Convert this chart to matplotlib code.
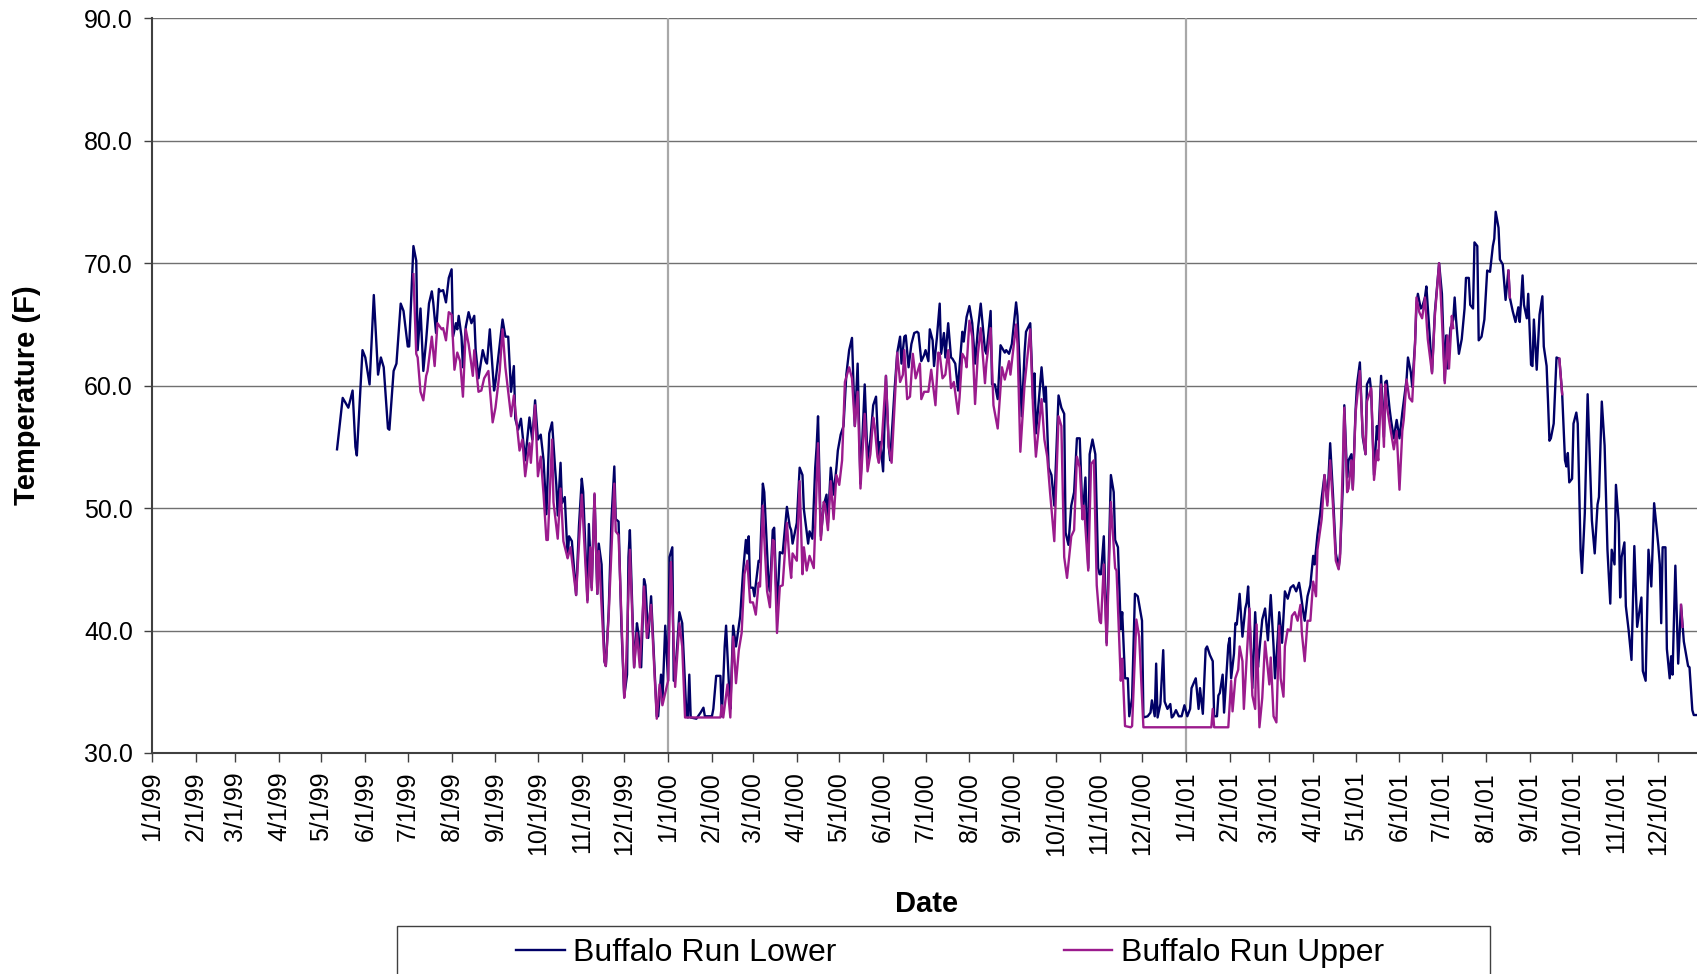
import numpy as np
import pandas as pd
import matplotlib
matplotlib.use('Agg')
import matplotlib.pyplot as plt
import matplotlib.dates as mdates
from matplotlib.ticker import FuncFormatter
from matplotlib.patches import Rectangle

plt.rcParams['font.family'] = ['Liberation Sans', 'DejaVu Sans']

# daily water temperature (F)
lower_1999 = [
    ('5/12/99', 54.8), ('5/16/99', 59.0), ('5/20/99', 58.2), ('5/23/99', 59.6), ('5/25/99', 55.0),
    ('5/26/99', 54.3), ('5/30/99', 62.9), ('6/1/99', 62.3), ('6/4/99', 60.1), ('6/7/99', 67.4),
    ('6/10/99', 60.9), ('6/12/99', 62.3), ('6/14/99', 61.5), ('6/17/99', 56.5), ('6/18/99', 56.4),
    ('6/21/99', 61.2), ('6/23/99', 61.8), ('6/26/99', 66.7), ('6/28/99', 66.1), ('7/1/99', 63.2),
    ('7/2/99', 63.2), ('7/5/99', 71.4), ('7/7/99', 70.2), ('7/8/99', 62.9), ('7/10/99', 66.3),
    ('7/12/99', 61.2), ('7/14/99', 63.7), ('7/16/99', 66.7), ('7/18/99', 67.7), ('7/19/99', 66.8),
    ('7/21/99', 64.3), ('7/23/99', 67.9), ('7/24/99', 67.7), ('7/26/99', 67.8), ('7/28/99', 66.8),
    ('7/30/99', 68.8), ('8/1/99', 69.5), ('8/2/99', 64.0), ('8/4/99', 65.1), ('8/5/99', 64.6),
    ('8/6/99', 65.7), ('8/8/99', 64.0), ('8/9/99', 61.5), ('8/11/99', 64.8), ('8/13/99', 66.0),
    ('8/15/99', 65.1), ('8/17/99', 65.7), ('8/18/99', 62.9), ('8/20/99', 60.6), ('8/23/99', 62.9),
    ('8/25/99', 62.0), ('8/26/99', 61.8), ('8/28/99', 64.6), ('8/31/99', 59.6), ('9/1/99', 60.3),
    ('9/4/99', 63.4), ('9/6/99', 65.4), ('9/8/99', 64.0), ('9/10/99', 64.0), ('9/12/99', 59.5),
    ('9/14/99', 61.6), ('9/15/99', 57.3), ('9/17/99', 56.4), ('9/19/99', 57.3), ('9/22/99', 53.9),
    ('9/25/99', 57.4), ('9/27/99', 55.6), ('9/29/99', 58.8), ('10/1/99', 55.6), ('10/3/99', 56.0),
    ('10/5/99', 53.9), ('10/7/99', 49.5), ('10/9/99', 56.1), ('10/11/99', 57.0), ('10/13/99', 53.5),
    ('10/14/99', 51.9), ('10/15/99', 49.4), ('10/17/99', 53.7), ('10/18/99', 50.4), ('10/20/99', 50.9),
    ('10/22/99', 46.0), ('10/23/99', 47.7), ('10/25/99', 47.3), ('10/28/99', 42.9), ('10/30/99', 48.5),
    ('11/1/99', 52.4), ('11/2/99', 51.3), ('11/5/99', 42.5), ('11/6/99', 48.7), ('11/8/99', 43.5),
    ('11/10/99', 51.1), ('11/12/99', 43.0), ('11/13/99', 47.1), ('11/15/99', 45.4), ('11/17/99', 37.5),
    ('11/18/99', 37.1), ('11/20/99', 41.5), ('11/22/99', 49.1), ('11/24/99', 53.4), ('11/25/99', 49.1),
    ('11/27/99', 48.9), ('11/29/99', 40.4), ('12/1/99', 34.6), ('12/3/99', 36.4), ('12/4/99', 46.0),
    ('12/5/99', 48.2), ('12/7/99', 40.6), ('12/8/99', 37.0), ('12/10/99', 40.6), ('12/11/99', 39.8),
    ('12/13/99', 37.0), ('12/15/99', 44.2), ('12/16/99', 43.7), ('12/18/99', 39.4), ('12/20/99', 42.8),
    ('12/21/99', 40.4), ('12/24/99', 33.0), ('12/25/99', 33.0), ('12/27/99', 36.4), ('12/28/99', 34.2),
    ('12/30/99', 40.4),
]
lower_2000 = [
    ('1/1/00', 35.9), ('1/2/00', 46.0), ('1/4/00', 46.8), ('1/5/00', 35.9), ('1/7/00', 38.0),
    ('1/9/00', 41.5), ('1/11/00', 40.6), ('1/14/00', 33.0), ('1/15/00', 32.9), ('1/16/00', 36.4),
    ('1/17/00', 32.9), ('1/21/00', 32.8), ('1/24/00', 33.3), ('1/26/00', 33.7), ('1/27/00', 33.0),
    ('2/1/00', 33.0), ('2/2/00', 33.6), ('2/4/00', 36.3), ('2/7/00', 36.3), ('2/8/00', 33.0),
    ('2/10/00', 38.7), ('2/11/00', 40.4), ('2/13/00', 35.6), ('2/14/00', 33.6), ('2/16/00', 40.4),
    ('2/18/00', 38.7), ('2/21/00', 41.2), ('2/23/00', 44.8), ('2/25/00', 47.4), ('2/26/00', 46.3),
    ('2/27/00', 47.7), ('2/28/00', 43.5), ('3/1/00', 43.5), ('3/2/00', 42.8), ('3/5/00', 45.7),
    ('3/6/00', 45.6), ('3/8/00', 52.0), ('3/9/00', 51.3), ('3/12/00', 44.0), ('3/13/00', 43.2),
    ('3/15/00', 48.2), ('3/16/00', 48.4), ('3/18/00', 41.5), ('3/20/00', 46.4), ('3/22/00', 46.3),
    ('3/25/00', 50.1), ('3/27/00', 48.5), ('3/28/00', 48.2), ('3/29/00', 47.1), ('4/1/00', 48.8),
    ('4/3/00', 53.3), ('4/5/00', 52.7), ('4/6/00', 49.9), ('4/9/00', 47.1), ('4/10/00', 48.1),
    ('4/12/00', 47.5), ('4/14/00', 53.3), ('4/15/00', 55.0), ('4/16/00', 57.5), ('4/18/00', 47.7),
    ('4/20/00', 50.2), ('4/22/00', 51.1), ('4/23/00', 48.8), ('4/25/00', 53.3), ('4/27/00', 51.1),
    ('4/29/00', 53.3), ('4/30/00', 54.7), ('5/2/00', 56.0), ('5/4/00', 56.7), ('5/6/00', 60.9),
    ('5/8/00', 62.9), ('5/10/00', 63.9), ('5/12/00', 56.7), ('5/14/00', 61.8), ('5/16/00', 52.0),
    ('5/19/00', 60.1), ('5/21/00', 53.9), ('5/23/00', 55.6), ('5/25/00', 58.4), ('5/27/00', 59.1),
    ('5/29/00', 53.9), ('5/30/00', 55.4), ('6/1/00', 53.0), ('6/3/00', 60.8), ('6/5/00', 55.0),
    ('6/6/00', 53.9), ('6/9/00', 59.5), ('6/11/00', 62.7), ('6/13/00', 64.0), ('6/14/00', 61.8),
    ('6/16/00', 64.0), ('6/17/00', 64.1), ('6/19/00', 61.5), ('6/21/00', 63.4), ('6/23/00', 64.3),
    ('6/25/00', 64.4), ('6/26/00', 64.3), ('6/28/00', 62.0), ('6/30/00', 62.5), ('7/1/00', 62.9),
    ('7/3/00', 62.0), ('7/4/00', 64.6), ('7/6/00', 63.7), ('7/7/00', 61.6), ('7/9/00', 63.9),
    ('7/11/00', 66.7), ('7/12/00', 62.6), ('7/14/00', 64.3), ('7/15/00', 62.3), ('7/17/00', 65.1),
    ('7/19/00', 62.3), ('7/20/00', 62.2), ('7/22/00', 61.8), ('7/24/00', 59.6), ('7/25/00', 61.5),
    ('7/27/00', 64.4), ('7/28/00', 63.6), ('7/30/00', 65.6), ('8/1/00', 66.5), ('8/3/00', 65.1),
    ('8/5/00', 61.8), ('8/7/00', 64.6), ('8/9/00', 66.7), ('8/12/00', 62.9), ('8/13/00', 62.6),
    ('8/16/00', 66.1), ('8/17/00', 60.1), ('8/19/00', 60.1), ('8/21/00', 58.9), ('8/23/00', 63.3),
    ('8/26/00', 62.7), ('8/27/00', 62.9), ('8/29/00', 62.6), ('8/31/00', 63.4), ('9/3/00', 66.8),
    ('9/4/00', 65.7), ('9/7/00', 57.5), ('9/9/00', 62.7), ('9/10/00', 64.4), ('9/13/00', 65.1),
    ('9/15/00', 58.9), ('9/16/00', 61.0), ('9/17/00', 56.1), ('9/19/00', 58.7), ('9/21/00', 61.5),
    ('9/23/00', 58.7), ('9/24/00', 59.9), ('9/26/00', 53.3), ('9/28/00', 52.7), ('9/30/00', 50.2),
    ('10/3/00', 59.2), ('10/5/00', 58.2), ('10/7/00', 57.7), ('10/8/00', 48.0), ('10/10/00', 47.0),
    ('10/12/00', 50.2), ('10/14/00', 51.3), ('10/16/00', 55.7), ('10/18/00', 55.7), ('10/20/00', 49.1),
    ('10/22/00', 52.5), ('10/24/00', 45.1), ('10/25/00', 54.4), ('10/27/00', 55.6), ('10/29/00', 54.4),
    ('10/31/00', 45.1), ('11/1/00', 44.6), ('11/2/00', 44.6), ('11/4/00', 47.7), ('11/6/00', 39.0),
    ('11/9/00', 52.7), ('11/11/00', 51.3), ('11/12/00', 47.4), ('11/14/00', 46.8), ('11/16/00', 40.1),
    ('11/17/00', 41.5), ('11/19/00', 36.1), ('11/21/00', 36.1), ('11/22/00', 33.0), ('11/24/00', 34.5),
    ('11/26/00', 43.0), ('11/28/00', 42.8), ('12/1/00', 40.8), ('12/2/00', 32.9), ('12/5/00', 33.0),
    ('12/7/00', 33.3), ('12/8/00', 34.3), ('12/10/00', 33.0), ('12/11/00', 37.3), ('12/12/00', 32.9),
    ('12/14/00', 34.0), ('12/16/00', 38.4), ('12/17/00', 34.2), ('12/19/00', 33.6), ('12/21/00', 34.0),
    ('12/22/00', 32.9), ('12/23/00', 33.0), ('12/25/00', 33.5), ('12/27/00', 33.0), ('12/29/00', 33.0),
    ('12/31/00', 33.9),
]
lower_2001 = [
    ('1/2/01', 33.0), ('1/4/01', 33.6), ('1/5/01', 35.3), ('1/8/01', 36.1), ('1/10/01', 33.6),
    ('1/11/01', 35.3), ('1/13/01', 33.2), ('1/15/01', 38.5), ('1/16/01', 38.7), ('1/18/01', 38.0),
    ('1/20/01', 37.5), ('1/21/01', 33.0), ('1/23/01', 33.0), ('1/24/01', 34.7), ('1/25/01', 34.9),
    ('1/27/01', 36.4), ('1/28/01', 33.3), ('1/31/01', 38.8), ('2/1/01', 39.4), ('2/2/01', 36.1),
    ('2/4/01', 38.1), ('2/5/01', 40.6), ('2/6/01', 40.5), ('2/8/01', 43.0), ('2/10/01', 39.5),
    ('2/12/01', 41.8), ('2/13/01', 42.3), ('2/14/01', 43.6), ('2/16/01', 38.4), ('2/17/01', 35.3),
    ('2/19/01', 41.5), ('2/21/01', 37.0), ('2/22/01', 38.4), ('2/24/01', 40.9), ('2/26/01', 41.8),
    ('2/28/01', 39.2), ('3/2/01', 42.9), ('3/4/01', 38.7), ('3/5/01', 36.1), ('3/7/01', 39.5),
    ('3/8/01', 41.5), ('3/10/01', 39.0), ('3/12/01', 43.2), ('3/14/01', 42.6), ('3/16/01', 43.5),
    ('3/18/01', 43.7), ('3/20/01', 43.2), ('3/22/01', 43.9), ('3/23/01', 43.2), ('3/25/01', 41.5),
    ('3/26/01', 40.8), ('3/28/01', 42.8), ('3/30/01', 43.7), ('4/1/01', 46.1), ('4/2/01', 45.4),
    ('4/4/01', 47.8), ('4/6/01', 49.6), ('4/7/01', 50.8), ('4/9/01', 52.7), ('4/11/01', 50.5),
    ('4/13/01', 55.3), ('4/15/01', 51.1), ('4/17/01', 46.3), ('4/19/01', 45.1), ('4/20/01', 46.3),
    ('4/22/01', 51.9), ('4/23/01', 58.4), ('4/25/01', 52.5), ('4/26/01', 53.9), ('4/28/01', 54.4),
    ('4/29/01', 51.6), ('5/1/01', 58.1), ('5/2/01', 60.1), ('5/4/01', 61.9), ('5/6/01', 55.8),
    ('5/8/01', 54.4), ('5/9/01', 60.1), ('5/11/01', 60.6), ('5/12/01', 59.5), ('5/14/01', 52.7),
    ('5/16/01', 56.7), ('5/17/01', 55.6), ('5/19/01', 60.8), ('5/21/01', 55.8), ('5/22/01', 60.3),
    ('5/23/01', 60.4), ('5/25/01', 58.1), ('5/26/01', 57.2), ('5/28/01', 55.7), ('5/30/01', 57.2),
    ('6/1/01', 55.7), ('6/3/01', 57.8), ('6/4/01', 58.7), ('6/6/01', 60.5), ('6/7/01', 62.3),
    ('6/9/01', 61.1), ('6/10/01', 59.9), ('6/12/01', 63.5), ('6/13/01', 66.6), ('6/14/01', 67.5),
    ('6/16/01', 66.3), ('6/17/01', 66.4), ('6/19/01', 67.2), ('6/20/01', 68.1), ('6/22/01', 64.7),
    ('6/24/01', 61.1), ('6/26/01', 66.0), ('6/28/01', 68.7), ('6/29/01', 70.0), ('7/1/01', 67.5),
    ('7/3/01', 60.4), ('7/4/01', 64.1), ('7/5/01', 61.4), ('7/7/01', 64.7), ('7/9/01', 65.4),
    ('7/10/01', 67.2), ('7/11/01', 65.4), ('7/13/01', 62.6), ('7/15/01', 63.8), ('7/17/01', 66.3),
    ('7/18/01', 68.8), ('7/20/01', 68.8), ('7/21/01', 66.6), ('7/23/01', 66.3), ('7/24/01', 71.7),
    ('7/26/01', 71.4), ('7/27/01', 63.7), ('7/29/01', 64.0), ('7/31/01', 65.4), ('8/2/01', 69.4),
    ('8/4/01', 69.3), ('8/6/01', 71.4), ('8/7/01', 72.0), ('8/8/01', 74.2), ('8/10/01', 72.9),
    ('8/11/01', 70.3), ('8/13/01', 69.9), ('8/15/01', 67.0), ('8/17/01', 69.4), ('8/18/01', 67.2),
    ('8/20/01', 66.1), ('8/22/01', 65.2), ('8/24/01', 66.4), ('8/25/01', 65.2), ('8/27/01', 69.0),
    ('8/28/01', 66.6), ('8/30/01', 65.5), ('8/31/01', 67.5), ('9/2/01', 61.7), ('9/3/01', 61.6),
    ('9/4/01', 65.4), ('9/6/01', 61.3), ('9/8/01', 65.8), ('9/10/01', 67.3), ('9/11/01', 63.2),
    ('9/13/01', 61.6), ('9/14/01', 58.7), ('9/15/01', 55.5), ('9/16/01', 55.7), ('9/18/01', 56.9),
    ('9/20/01', 62.3), ('9/22/01', 62.2), ('9/24/01', 59.3), ('9/26/01', 53.9), ('9/27/01', 53.4),
    ('9/28/01', 54.5), ('9/29/01', 52.1), ('10/1/01', 52.4), ('10/2/01', 56.9), ('10/4/01', 57.8),
    ('10/5/01', 56.9), ('10/7/01', 46.6), ('10/8/01', 44.7), ('10/10/01', 49.6), ('10/12/01', 59.3),
    ('10/15/01', 49.0), ('10/17/01', 46.3), ('10/19/01', 50.3), ('10/20/01', 50.9), ('10/22/01', 58.7),
    ('10/24/01', 55.1), ('10/26/01', 46.6), ('10/28/01', 42.2), ('10/29/01', 46.6), ('10/31/01', 45.4),
    ('11/1/01', 51.9), ('11/3/01', 48.8), ('11/4/01', 42.7), ('11/5/01', 46.0), ('11/7/01', 47.2),
    ('11/8/01', 42.0), ('11/10/01', 40.0), ('11/12/01', 37.6), ('11/14/01', 46.9), ('11/16/01', 40.3),
    ('11/19/01', 42.7), ('11/20/01', 36.7), ('11/22/01', 35.9), ('11/24/01', 46.6), ('11/26/01', 43.6),
    ('11/28/01', 50.4), ('12/1/01', 46.9), ('12/2/01', 45.4), ('12/3/01', 40.6), ('12/4/01', 46.8),
    ('12/6/01', 46.8), ('12/7/01', 38.5), ('12/9/01', 36.1), ('12/10/01', 37.9), ('12/11/01', 36.4),
    ('12/13/01', 45.3), ('12/15/01', 37.3), ('12/17/01', 42.1), ('12/19/01', 39.1), ('12/22/01', 37.1),
    ('12/23/01', 37.0), ('12/25/01', 33.5), ('12/26/01', 33.1), ('12/28/01', 33.1),
]

upper_1999 = [
    ('7/5/99', 69.1), ('7/7/99', 62.6), ('7/8/99', 62.3), ('7/10/99', 59.5), ('7/12/99', 58.8),
    ('7/14/99', 60.8), ('7/15/99', 61.2), ('7/18/99', 64.0), ('7/20/99', 61.6), ('7/22/99', 65.1),
    ('7/25/99', 64.6), ('7/26/99', 64.7), ('7/28/99', 63.7), ('7/30/99', 66.0), ('8/1/99', 65.8),
    ('8/3/99', 61.3), ('8/5/99', 62.7), ('8/7/99', 62.0), ('8/9/99', 59.1), ('8/11/99', 64.6),
    ('8/13/99', 63.4), ('8/16/99', 60.8), ('8/17/99', 62.9), ('8/20/99', 59.5), ('8/22/99', 59.6),
    ('8/24/99', 60.6), ('8/27/99', 61.2), ('8/30/99', 57.0), ('9/1/99', 58.2), ('9/4/99', 61.2),
    ('9/6/99', 64.6), ('9/8/99', 61.5), ('9/12/99', 57.5), ('9/14/99', 59.2), ('9/18/99', 54.7),
    ('9/20/99', 55.6), ('9/22/99', 52.6), ('9/25/99', 55.3), ('9/26/99', 53.7), ('9/29/99', 58.4),
    ('10/1/99', 52.6), ('10/3/99', 54.2), ('10/5/99', 51.1), ('10/7/99', 47.4), ('10/8/99', 47.4),
    ('10/11/99', 55.6), ('10/12/99', 50.5), ('10/15/99', 47.5), ('10/17/99', 51.6), ('10/19/99', 47.3),
    ('10/22/99', 45.9), ('10/24/99', 46.8), ('10/28/99', 42.9), ('11/1/99', 51.1), ('11/5/99', 42.3),
    ('11/7/99', 46.8), ('11/8/99', 43.3), ('11/10/99', 51.2), ('11/12/99', 43.0), ('11/13/99', 46.5),
    ('11/17/99', 37.5), ('11/18/99', 37.1), ('11/20/99', 41.2), ('11/24/99', 52.0), ('11/25/99', 48.1),
    ('11/27/99', 47.8), ('12/1/99', 34.5), ('12/2/99', 36.1), ('12/5/99', 46.6), ('12/8/99', 37.0),
    ('12/10/99', 39.8), ('12/12/99', 37.0), ('12/15/99', 43.6), ('12/17/99', 39.4), ('12/20/99', 42.1),
    ('12/24/99', 32.8), ('12/26/99', 35.6), ('12/28/99', 33.9),
]
upper_2000 = [
    ('1/1/00', 35.9), ('1/3/00', 45.6), ('1/6/00', 35.4), ('1/9/00', 40.6), ('1/11/00', 38.7),
    ('1/13/00', 32.9), ('2/7/00', 32.9), ('2/8/00', 33.9), ('2/9/00', 32.9), ('2/12/00', 35.6),
    ('2/14/00', 32.9), ('2/16/00', 39.5), ('2/18/00', 35.7), ('2/20/00', 38.4), ('2/22/00', 39.8),
    ('2/24/00', 44.6), ('2/26/00', 45.7), ('2/28/00', 42.3), ('3/1/00', 42.3), ('3/3/00', 41.3),
    ('3/5/00', 43.9), ('3/6/00', 43.6), ('3/8/00', 50.2), ('3/9/00', 47.5), ('3/11/00', 43.2),
    ('3/13/00', 41.9), ('3/15/00', 47.4), ('3/16/00', 47.3), ('3/18/00', 39.8), ('3/20/00', 43.6),
    ('3/22/00', 43.7), ('3/25/00', 48.8), ('3/27/00', 45.4), ('3/28/00', 44.3), ('3/29/00', 46.3),
    ('4/1/00', 45.7), ('4/3/00', 52.2), ('4/5/00', 44.6), ('4/6/00', 46.8), ('4/8/00', 44.9),
    ('4/10/00', 46.1), ('4/13/00', 45.1), ('4/16/00', 55.3), ('4/18/00', 47.4), ('4/20/00', 50.5),
    ('4/21/00', 50.2), ('4/23/00', 48.2), ('4/25/00', 52.2), ('4/27/00', 49.1), ('4/29/00', 52.7),
    ('5/1/00', 51.9), ('5/3/00', 53.9), ('5/5/00', 60.3), ('5/8/00', 61.5), ('5/10/00', 60.6),
    ('5/12/00', 56.7), ('5/14/00', 59.5), ('5/16/00', 51.6), ('5/19/00', 57.7), ('5/21/00', 53.0),
    ('5/23/00', 54.4), ('5/25/00', 57.4), ('5/26/00', 56.7), ('5/28/00', 54.2), ('5/29/00', 53.7),
    ('5/31/00', 55.3), ('6/3/00', 60.8), ('6/5/00', 55.0), ('6/7/00', 53.7), ('6/11/00', 62.7),
    ('6/13/00', 60.3), ('6/15/00', 60.9), ('6/16/00', 62.9), ('6/18/00', 58.9), ('6/20/00', 59.1),
    ('6/22/00', 62.6), ('6/24/00', 60.6), ('6/27/00', 61.8), ('6/28/00', 58.9), ('6/30/00', 59.5),
    ('7/2/00', 59.5), ('7/3/00', 59.5), ('7/5/00', 61.3), ('7/8/00', 58.4), ('7/10/00', 62.7),
    ('7/11/00', 62.6), ('7/13/00', 60.6), ('7/15/00', 60.9), ('7/17/00', 62.9), ('7/19/00', 59.8),
    ('7/21/00', 60.3), ('7/24/00', 57.7), ('7/25/00', 59.0), ('7/27/00', 62.6), ('7/29/00', 62.2),
    ('7/30/00', 61.5), ('8/1/00', 65.3), ('8/3/00', 64.0), ('8/5/00', 58.5), ('8/7/00', 62.6),
    ('8/9/00', 64.7), ('8/12/00', 60.2), ('8/13/00', 61.8), ('8/16/00', 64.7), ('8/18/00', 58.4),
    ('8/21/00', 56.5), ('8/24/00', 61.5), ('8/26/00', 60.5), ('8/29/00', 62.0), ('8/30/00', 60.9),
    ('9/3/00', 65.0), ('9/4/00', 63.4), ('9/6/00', 54.6), ('9/9/00', 60.1), ('9/13/00', 64.6),
    ('9/15/00', 58.1), ('9/17/00', 54.2), ('9/21/00', 58.9), ('9/23/00', 55.6), ('9/25/00', 54.2),
    ('9/27/00', 51.3), ('9/30/00', 47.3), ('10/3/00', 57.5), ('10/5/00', 56.7), ('10/7/00', 46.0),
    ('10/9/00', 44.3), ('10/12/00', 47.7), ('10/14/00', 48.2), ('10/16/00', 54.2), ('10/18/00', 53.3),
    ('10/20/00', 49.1), ('10/21/00', 50.2), ('10/24/00', 44.9), ('10/26/00', 53.6), ('10/28/00', 53.9),
    ('10/30/00', 43.7), ('11/1/00', 40.8), ('11/2/00', 40.6), ('11/4/00', 45.4), ('11/6/00', 38.8),
    ('11/9/00', 50.5), ('11/12/00', 45.1), ('11/13/00', 44.9), ('11/16/00', 35.9), ('11/17/00', 37.7),
    ('11/19/00', 32.2), ('11/23/00', 32.1), ('11/24/00', 32.2), ('11/27/00', 40.9), ('11/29/00', 39.5),
    ('12/2/00', 32.1),
]
# upper logger stops in July 2001 apart from a few short stretches
upper_2001 = [
    ('1/19/01', 32.1), ('1/20/01', 33.6), ('1/21/01', 32.1), ('1/31/01', 32.1), ('2/2/01', 35.9),
    ('2/3/01', 33.4), ('2/5/01', 36.1), ('2/7/01', 36.8), ('2/8/01', 38.7), ('2/10/01', 37.5),
    ('2/11/01', 33.6), ('2/13/01', 37.8), ('2/15/01', 41.8), ('2/17/01', 34.7), ('2/19/01', 33.6),
    ('2/20/01', 40.5), ('2/22/01', 32.1), ('2/24/01', 34.5), ('2/26/01', 39.1), ('3/1/01', 35.6),
    ('3/2/01', 37.8), ('3/4/01', 33.0), ('3/6/01', 32.5), ('3/8/01', 40.4), ('3/9/01', 36.1),
    ('3/11/01', 34.6), ('3/12/01', 38.7), ('3/14/01', 40.1), ('3/16/01', 40.0), ('3/17/01', 41.2),
    ('3/19/01', 41.5), ('3/21/01', 40.8), ('3/23/01', 42.1), ('3/24/01', 39.8), ('3/26/01', 37.5),
    ('3/28/01', 40.8), ('3/30/01', 40.8), ('4/1/01', 44.0), ('4/3/01', 42.8), ('4/4/01', 46.6),
    ('4/7/01', 49.1), ('4/9/01', 52.7), ('4/11/01', 50.2), ('4/13/01', 53.9), ('4/15/01', 50.2),
    ('4/17/01', 45.7), ('4/19/01', 45.0), ('4/20/01', 46.0), ('4/22/01', 53.9), ('4/23/01', 58.2),
    ('4/25/01', 51.3), ('4/26/01', 51.6), ('4/28/01', 53.9), ('4/29/01', 51.5), ('5/1/01', 57.8),
    ('5/4/01', 61.2), ('5/6/01', 56.1), ('5/8/01', 54.4), ('5/9/01', 58.7), ('5/12/01', 59.8),
    ('5/14/01', 52.3), ('5/16/01', 54.7), ('5/17/01', 53.9), ('5/19/01', 60.1), ('5/21/01', 55.0),
    ('5/22/01', 60.1), ('5/23/01', 58.4), ('5/25/01', 56.9), ('5/28/01', 54.8), ('5/30/01', 56.3),
    ('6/1/01', 51.5), ('6/3/01', 56.3), ('6/4/01', 57.2), ('6/6/01', 60.5), ('6/8/01', 59.0),
    ('6/10/01', 58.7), ('6/12/01', 63.4), ('6/13/01', 67.2), ('6/15/01', 66.0), ('6/17/01', 65.5),
    ('6/19/01', 67.2), ('6/21/01', 63.8), ('6/24/01', 61.0), ('6/26/01', 65.7), ('6/29/01', 70.0),
    ('7/1/01', 65.4), ('7/3/01', 60.2), ('7/5/01', 64.1), ('7/6/01', 61.4), ('7/8/01', 65.7),
    ('7/9/01', 64.7), ('7/10/01', None),
    ('8/17/01', 69.4), ('8/18/01', 67.2), ('8/19/01', None),
    ('9/22/01', 62.2), ('9/24/01', 59.3), ('9/25/01', None),
    ('12/17/01', 42.1), ('12/18/01', 40.3),
]

year_lines = ['1/1/00', '1/1/01']
series_names = ['Buffalo Run Lower', 'Buffalo Run Upper']
series_colors = ['#000066', '#9b1b8d']


def to_series(*chunks):
    pairs = [p for c in chunks for p in c]
    dates = pd.to_datetime([d for d, _ in pairs], format='%m/%d/%y')
    vals = np.array([np.nan if v is None else v for _, v in pairs], dtype=float)
    return dates, vals


lower_d, lower_t = to_series(lower_1999, lower_2000, lower_2001)
upper_d, upper_t = to_series(upper_1999, upper_2000, upper_2001)

W, H = 1697, 974
fig = plt.figure(figsize=(W / 100, H / 100), dpi=100)
ax = fig.add_axes([151.7 / W, 1 - 753 / H, 1 - 151.7 / W, (753 - 18.3) / H])

l1, = ax.plot(lower_d, lower_t, color=series_colors[0], lw=1.7, label=series_names[0], zorder=3)
l2, = ax.plot(upper_d, upper_t, color=series_colors[1], lw=1.7, label=series_names[1], zorder=4)

for d in year_lines:
    ax.axvline(pd.to_datetime(d, format='%m/%d/%y'), color='#a8a8a8', lw=1.6, zorder=1)

ax.set_ylim(30, 90)
ax.set_yticks(np.arange(30, 91, 10))
ax.yaxis.set_major_formatter(FuncFormatter(lambda v, p: f'{v:.1f}'))
ax.yaxis.grid(True, color='#707070', lw=1.0, zorder=0)
ax.set_axisbelow(True)

start = pd.Timestamp('1999-01-01')
ax.set_xlim(start, start + pd.Timedelta(days=1092.3))
ax.xaxis.set_major_locator(mdates.MonthLocator())


def fmt_date(x, pos):
    d = mdates.num2date(x)
    return f'{d.month}/{d.day}/{d.year % 100:02d}'


ax.xaxis.set_major_formatter(FuncFormatter(fmt_date))
ax.tick_params(axis='x', labelsize=18, rotation=90, length=6.5, width=1.0, pad=7, color='#404040')
ax.tick_params(axis='y', labelsize=18, length=5.5, width=1.0, pad=8, color='#404040')

for s in ['top', 'right']:
    ax.spines[s].set_visible(False)
for s in ['left', 'bottom']:
    ax.spines[s].set_color('#404040')
    ax.spines[s].set_linewidth(1.5)

fig.text(27.5 / W, 1 - 395 / H, 'Temperature (F)', rotation=90, ha='center', va='center',
         fontsize=21, fontweight='bold')
fig.text(926.5 / W, 1 - 904 / H, 'Date', ha='center', va='center', fontsize=21, fontweight='bold')

# legend box runs off the bottom of the picture
box_top = 1 - 925.7 / H
fig.patches.append(Rectangle((397 / W, -0.05), (1490 - 397) / W, box_top + 0.05,
                             transform=fig.transFigure, fill=False, ec='#404040', lw=1.0))
fig.legend(handles=[l1, l2], loc='center', bbox_to_anchor=(950 / W, 1 - 953 / H), ncol=2,
           frameon=False, fontsize=23, handlelength=1.53, handletextpad=0.27, columnspacing=7.1)

fig.savefig('out.png', dpi=100)
